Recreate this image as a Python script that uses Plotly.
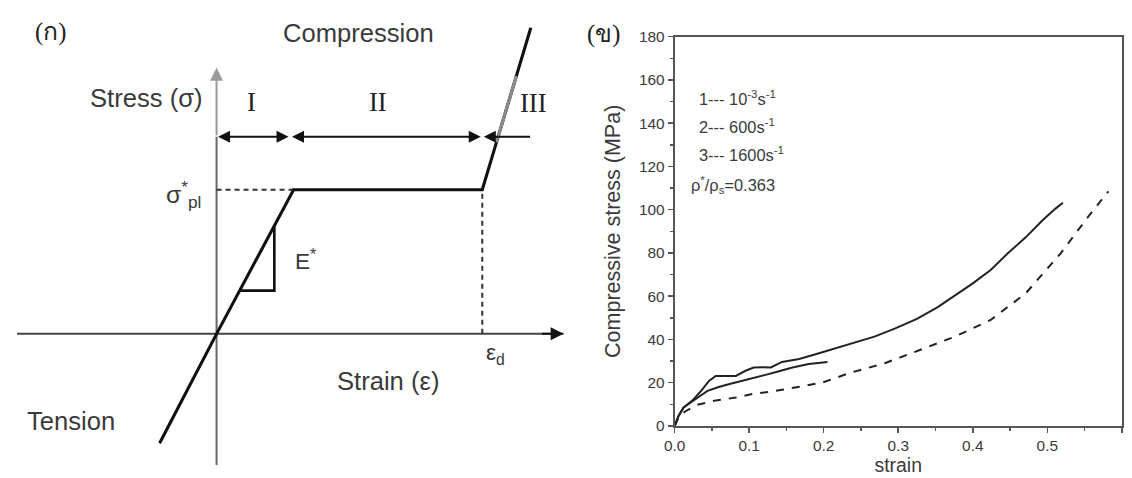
import plotly.graph_objects as go

# ---------------- Panel (ก): idealised stress–strain schematic ----------------
# Schematic units: yield point at (1, 1); densification starts at eps_d.
schem_strain = [-0.74, 0.0, 1.0, 3.45, 4.08]
schem_stress = [-0.76, 0.0, 1.0, 1.0, 2.125]
eps_yield, sigma_pl, eps_d = 1.0, 1.0, 3.45
region_arrow_level = 1.368            # height of the I / II / III arrows
region_bounds = [0.0, 0.935, 0.96, 3.43]
region_iii_tail, region_iii_head = 4.09, 3.47
slope_tri = [0.30, 0.75]               # E* slope triangle corners (on the elastic line)
grey_band = [1.33, 1.79]               # lighter stretch of the densification line
strain_axis = [-2.59, 4.506]
stress_axis = [-0.91, 1.847]

# ---------------- Panel (ข): measured compressive curves ----------------
strain_1 = [0, 0.004, 0.01, 0.015, 0.03, 0.053, 0.082, 0.104, 0.131, 0.167, 0.198,
            0.235, 0.282, 0.329, 0.376, 0.424, 0.471, 0.518, 0.555, 0.582]
stress_1 = [0, 3, 5.5, 6.9, 9.7, 11.6, 13.1, 14.7, 15.9, 18, 20,
            24.5, 29, 35.1, 41.3, 49, 61.3, 79.8, 96.8, 108.5]

strain_2 = [0, 0.005, 0.012, 0.024, 0.034, 0.044, 0.059, 0.075, 0.091, 0.106, 0.122,
            0.14, 0.158, 0.18, 0.195, 0.205]
stress_2 = [0, 4.5, 8.5, 11.2, 13.8, 16.2, 18, 19.5, 20.8, 22.2, 23.6,
            25.3, 27, 28.6, 29.4, 29.6]

strain_3 = [0, 0.005, 0.012, 0.024, 0.035, 0.046, 0.055, 0.068, 0.082, 0.095, 0.106,
            0.118, 0.129, 0.144, 0.167, 0.188, 0.212, 0.24, 0.268, 0.296, 0.325,
            0.353, 0.376, 0.4, 0.424, 0.447, 0.471, 0.494, 0.511, 0.521]
stress_3 = [0, 4.5, 8.5, 11.8, 16, 20.8, 23.1, 23.2, 23.1, 25.5, 27,
            27.1, 27, 29.6, 30.9, 33.0, 35.5, 38.2, 41.3, 45.1, 49.5,
            54.9, 60.1, 65.9, 72.1, 79.8, 87.2, 95.2, 100.5, 103.2]

legend_lines = ["1--- 10<sup>-3</sup>s<sup>-1</sup>",
                "2--- 600s<sup>-1</sup>",
                "3--- 1600s<sup>-1</sup>",
                "ρ<sup>*</sup>/ρ<sub>s</sub>=0.363"]
x_ticks = [0.0, 0.1, 0.2, 0.3, 0.4, 0.5, 0.6]
y_ticks = [0, 20, 40, 60, 80, 100, 120, 140, 160, 180]

W, H = 1132, 478

# the page shows the figure slightly inset and reduced; these constants undo that
INSET_X, INSET_Y, SCALE_X, SCALE_Y = 5.5, 9.3, 0.990, 0.964
F = 1 / 0.977                         # font / stroke enlargement to match


def px_x(p):
    """target page x pixel -> paper fraction"""
    return (p - INSET_X) / SCALE_X / W


def px_y(p):
    """target page y pixel (from top) -> paper fraction"""
    return 1 - (p - INSET_Y) / SCALE_Y / H


# schematic scale: pixels per unit and page position of the origin
SX, SY, OX, OY = 77.0, 144.0, 211.0, 334.0
left_right_px = 580
page_left = INSET_X
page_top, page_bottom = INSET_Y, INSET_Y + SCALE_Y * H

SANS = "Liberation Sans, Arial, sans-serif"
SERIF = "Liberation Serif, Times New Roman, serif"
TXT = "#3a3a3a"
AX = "#555555"


def fs(v):
    return round(v * F, 1)


fig = go.Figure()

# schematic: axes
fig.add_trace(go.Scatter(x=strain_axis, y=[0, 0], mode="lines",
                         line=dict(color="#444", width=fs(2)), xaxis="x", yaxis="y"))
fig.add_trace(go.Scatter(x=[0, 0], y=[stress_axis[0], region_arrow_level], mode="lines",
                         line=dict(color="#666", width=fs(2)), xaxis="x", yaxis="y"))
# dashed guides to the plateau stress and densification strain
fig.add_trace(go.Scatter(x=[0, eps_yield], y=[sigma_pl, sigma_pl], mode="lines",
                         line=dict(color="#333", width=fs(2), dash="5px,4px"),
                         xaxis="x", yaxis="y"))
fig.add_trace(go.Scatter(x=[eps_d, eps_d], y=[0, sigma_pl], mode="lines",
                         line=dict(color="#333", width=fs(2), dash="5px,4px"),
                         xaxis="x", yaxis="y"))
# the idealised curve
fig.add_trace(go.Scatter(x=schem_strain, y=schem_stress, mode="lines",
                         line=dict(color="#111", width=fs(3)), xaxis="x", yaxis="y"))
# lighter stretch of the densification branch
dens_slope = (schem_stress[-1] - schem_stress[-2]) / (schem_strain[-1] - schem_strain[-2])
fig.add_trace(go.Scatter(x=[eps_d + (g - sigma_pl) / dens_slope for g in grey_band],
                         y=grey_band, mode="lines",
                         line=dict(color="#8a8a8a", width=fs(3)), xaxis="x", yaxis="y"))
# E* slope triangle
fig.add_trace(go.Scatter(x=[slope_tri[0], slope_tri[1], slope_tri[1]],
                         y=[slope_tri[0], slope_tri[0], slope_tri[1]], mode="lines",
                         line=dict(color="#111", width=fs(2.5)), xaxis="x", yaxis="y"))

# measured curves
fig.add_trace(go.Scatter(x=strain_1, y=stress_1, mode="lines", name="1",
                         line=dict(color="#222", width=fs(2), dash="8px,8px"),
                         xaxis="x2", yaxis="y2"))
fig.add_trace(go.Scatter(x=strain_2, y=stress_2, mode="lines", name="2",
                         line=dict(color="#222", width=fs(2)), xaxis="x2", yaxis="y2"))
fig.add_trace(go.Scatter(x=strain_3, y=stress_3, mode="lines", name="3",
                         line=dict(color="#222", width=fs(2)), xaxis="x2", yaxis="y2"))

ann = []


def arrow(x, y, ax, ay, color="#111", width=2, side="end", size=1.2):
    ann.append(dict(x=x, y=y, ax=ax, ay=ay, xref="x", yref="y", axref="x", ayref="y",
                    text="", showarrow=True, arrowhead=2, arrowsize=size,
                    arrowwidth=fs(width), arrowcolor=color, arrowside=side, standoff=0,
                    startstandoff=0))


# axis arrows
arrow(strain_axis[1], 0, strain_axis[1] - 0.3, 0, color="#111", width=2, size=1.3)
arrow(0, stress_axis[1], 0, region_arrow_level, color="#9a9a9a", width=2, size=1.3)
# region arrows I, II, III
arrow(region_bounds[1], region_arrow_level, region_bounds[0], region_arrow_level,
      side="end+start")
arrow(region_bounds[3], region_arrow_level, region_bounds[2], region_arrow_level,
      side="end+start")
arrow(region_iii_head, region_arrow_level, region_iii_tail, region_arrow_level)


def label(x, y, text, size, family=SANS, xanchor="center", xref="x", yref="y", color=TXT):
    ann.append(dict(x=x, y=y, xref=xref, yref=yref, text=text, showarrow=False,
                    xanchor=xanchor, yanchor="middle",
                    font=dict(family=family, size=fs(size), color=color)))


label(-2.156, 2.097, "(ก)", 24, family=SERIF, color="#222")
label(1.844, 2.09, "Compression", 25)
label(-0.909, 1.639, "Stress (σ)", 25)
label(0.455, 1.611, "I", 26, family=SERIF, color="#222")
label(2.09, 1.611, "II", 26, family=SERIF, color="#222")
label(4.117, 1.604, "III", 26, family=SERIF, color="#222")
label(-0.17, 0.97, "σ<sup>*</sup><sub>pl</sub>", 24, xanchor="right")
label(1.156, 0.514, "E<sup>*</sup>", 22)
label(3.62, -0.14, "ε<sub>d</sub>", 22)
label(2.22, -0.326, "Strain (ε)", 25)
label(-1.896, -0.604, "Tension", 25)

# panel (ข) labels
label(px_x(598), px_y(34), "(ข)", 24, family=SERIF, xref="paper", yref="paper", color="#222")
legend_y = [151.8, 138.8, 125.9, 111.5]
legend_x = [0.0295, 0.0295, 0.0295, 0.019]
for lx, ly, txt in zip(legend_x, legend_y, legend_lines):
    ann.append(dict(x=lx, y=ly, xref="x2", yref="y2", text=txt, showarrow=False,
                    xanchor="left", yanchor="middle",
                    font=dict(family=SANS, size=fs(16), color=TXT)))

fig.update_layout(
    width=W, height=H, autosize=False,
    margin=dict(l=0, r=0, t=0, b=0),
    paper_bgcolor="white", plot_bgcolor="rgba(0,0,0,0)",
    showlegend=False, hovermode=False, dragmode=False,
    annotations=ann,
    xaxis=dict(domain=[0, px_x(left_right_px)],
               range=[(page_left - OX) / SX, (left_right_px - OX) / SX],
               visible=False, fixedrange=True),
    yaxis=dict(domain=[0, 1],
               range=[(OY - page_bottom) / SY, (OY - page_top) / SY],
               visible=False, fixedrange=True),
    xaxis2=dict(domain=[px_x(669), px_x(1116)], range=[0, 0.6], anchor="y2",
                fixedrange=True,
                tickvals=x_ticks, tickformat=".1f", ticks="outside", ticklen=5,
                tickwidth=1.5, tickcolor=AX, showline=True, linecolor=AX,
                linewidth=fs(2), mirror=True, showgrid=False, zeroline=False,
                tickfont=dict(family=SANS, size=fs(15), color=TXT),
                minor=dict(dtick=0.05, ticks="outside", ticklen=3, tickcolor=AX),
                title=dict(text="strain", font=dict(family=SANS, size=fs(19), color=TXT),
                           standoff=4)),
    yaxis2=dict(domain=[px_y(426), px_y(37)], range=[0, 180], anchor="x2",
                fixedrange=True,
                tickvals=y_ticks, ticks="outside", ticklen=5, tickwidth=1.5,
                tickcolor=AX, showline=True, linecolor=AX, linewidth=fs(2), mirror=True,
                showgrid=False, zeroline=False,
                tickfont=dict(family=SANS, size=fs(15), color=TXT),
                minor=dict(dtick=10, ticks="outside", ticklen=3, tickcolor=AX),
                title=dict(text="Compressive stress (MPa)",
                           font=dict(family=SANS, size=fs(21), color=TXT), standoff=12)),
)

fig.write_html("out.html", config={"staticPlot": True, "displayModeBar": False})
